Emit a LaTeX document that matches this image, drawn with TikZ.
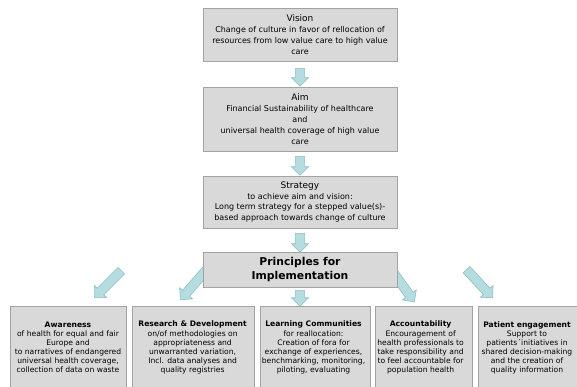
\documentclass[tikz,border=0pt]{standalone}
\usepackage{fontspec}
\setmainfont{DejaVu Sans}
\usetikzlibrary{shapes.arrows,calc}
\definecolor{boxfill}{HTML}{D9D9D9}
\definecolor{boxline}{HTML}{A3A3A3}
\definecolor{arrfill}{HTML}{B5DDE0}
\definecolor{arrline}{HTML}{8DBFC4}
\tikzset{
  topbox/.style={draw=boxline, fill=boxfill, line width=0.8pt, minimum width=194pt, inner sep=0pt},
  botbox/.style={draw=boxline, fill=boxfill, line width=0.8pt, anchor=north west, inner sep=0pt},
  bodytext/.style={align=center, font=\fontsize{8}{10.9}\selectfont, inner sep=0pt},
  titlesize/.style={font=\fontsize{9}{11}\selectfont},
  bottext/.style={align=center, font=\fontsize{7.6}{9.1}\selectfont, inner sep=0pt, anchor=north},
  blockarrow/.style={single arrow, draw=arrline, fill=arrfill, line width=0.6pt,
     inner sep=4.3pt, single arrow head extend=4pt, minimum width=1pt, anchor=center}
}
\newcommand\barrow[2]{%
  \path let \p1=($(#2)-(#1)$), \n1={atan2(\y1,\x1)}, \n2={veclen(\x1,\y1)} in
    node[blockarrow, rotate=\n1, minimum height=\n2] at ($(#1)!0.5!(#2)$) {};}
\newcommand\ttl[1]{{\fontsize{9}{11}\selectfont #1}}
\begin{document}
\begin{tikzpicture}[x=1pt,y=-1pt]
\clip (0,0) rectangle (577,386);
\fill[white] (0,0) rectangle (577,386);
% top boxes
\node[topbox, minimum height=53pt] (vision) at (300,34.5) {};
\node[bodytext] (visiont) at (vision.center) {\ttl{Vision}\\Change of culture in favor of rellocation of\\resources from low value care to high value\\care};
\node[topbox, minimum height=64pt] (aim) at (300,119) {};
\node[bodytext] (aimt) at (aim.center) {\ttl{Aim}\\Financial Sustainability of healthcare\\and\\universal health coverage of high value\\care};
\node[topbox, minimum height=52pt] (strategy) at (300,202) {};
\node[bodytext] (strategyt) at (strategy.center) {\ttl{Strategy}\\to achieve aim and vision:\\Long term strategy for a stepped value(s)-\\based approach towards change of culture};
% vertical arrows
\coordinate (a1s) at (300,66); \coordinate (a1e) at (300,84);
\coordinate (a2s) at (300,154); \coordinate (a2e) at (300,173);
\coordinate (a3s) at (300,231); \coordinate (a3e) at (300,250);
\barrow{a1s}{a1e}
\barrow{a2s}{a2e}
\barrow{a3s}{a3e}
% diagonal arrows (behind principles box)
\coordinate (d1s) at (123,269); \coordinate (d1e) at (96,296);
\coordinate (d2s) at (208,268); \coordinate (d2e) at (182,298);
\coordinate (d4s) at (390,268); \coordinate (d4e) at (413,300);
\coordinate (d5s) at (465,268); \coordinate (d5e) at (491,296);
\barrow{d1s}{d1e}
\barrow{d2s}{d2e}
\barrow{d4s}{d4e}
\barrow{d5s}{d5e}
% principles
\node[topbox, minimum height=35pt] (princ) at (300,269.5) {};
\node[align=center, font=\fontsize{10.8}{14}\selectfont\bfseries, inner sep=0pt] (princt) at (princ.center) {Principles for\\Implementation};
\coordinate (c3s) at (300,288); \coordinate (c3e) at (300,304);
\barrow{c3s}{c3e}
% bottom boxes
\node[botbox, minimum width=116pt, minimum height=90pt] (b1) at (10,306) {};
\node[botbox, minimum width=122pt, minimum height=90pt] (b2) at (132,306) {};
\node[botbox, minimum width=110pt, minimum height=90pt] (b3) at (260,306) {};
\node[botbox, minimum width=97pt, minimum height=90pt] (b4) at (375,306) {};
\node[botbox, minimum width=110pt, minimum height=90pt] (b5) at (478,306) {};
\node[bottext] (b1t) at (68,321.5) {\textbf{Awareness}\\of health for equal and fair\\Europe and\\to narratives of endangered\\universal health coverage,\\collection of data on waste};
\node[bottext] (b2t) at (192.6,321) {\textbf{Research \& Development}\\on/of methodologies on\\appropriateness and\\unwarranted variation,\\Incl. data analyses and\\quality registries};
\node[bottext] (b3t) at (313.5,321) {\textbf{Learning Communities}\\for reallocation:\\Creation of fora for\\exchange of experiences,\\benchmarking, monitoring,\\piloting, evaluating};
\node[bottext] (b4t) at (420.6,321) {\textbf{Accountability}\\Encouragement of\\health professionals to\\take responsibility and\\to feel accountable for\\population health};
\node[bottext] (b5t) at (527,321.5) {\textbf{Patient engagement}\\Support to\\patients´initiatives in\\shared decision-making\\and the creation of\\quality information};
\end{tikzpicture}
\end{document}
